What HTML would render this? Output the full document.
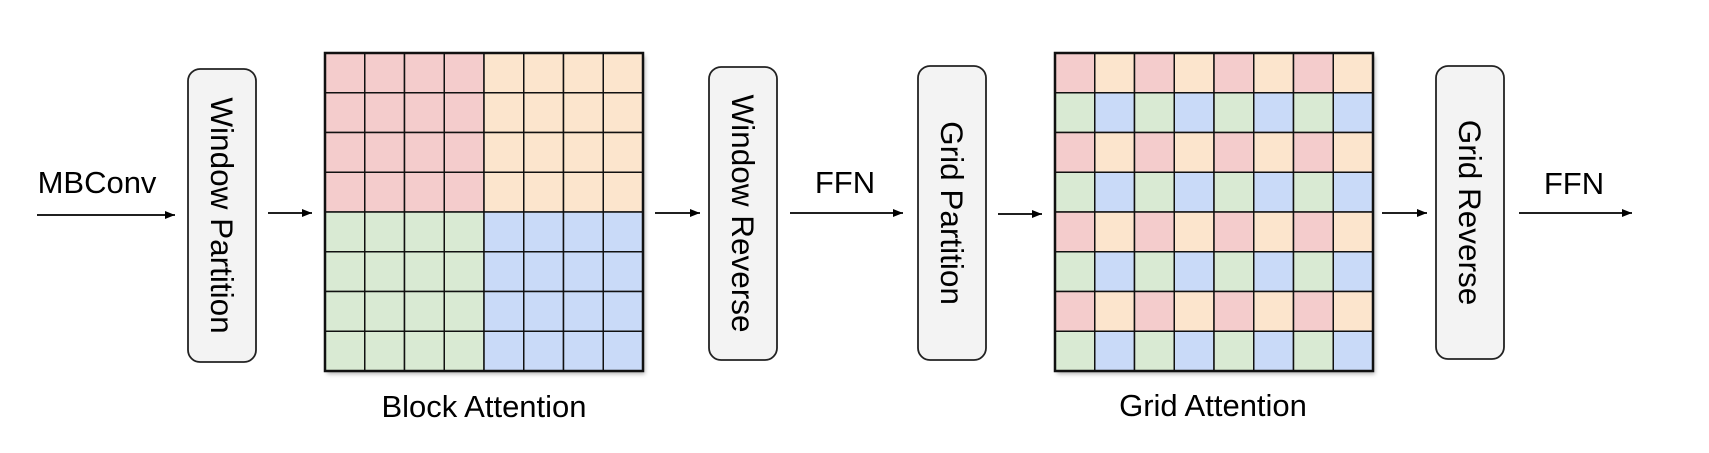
<!DOCTYPE html>
<html><head><meta charset="utf-8">
<style>
html,body{margin:0;padding:0;background:#fff;}
svg{display:block;}
text{font-family:"Liberation Sans",Arial,sans-serif;fill:#000;}
</style></head>
<body>
<svg id="fig" width="1709" height="453" viewBox="0 0 1709 453" xmlns="http://www.w3.org/2000/svg">
<defs>
<marker id="ah" markerWidth="10" markerHeight="8" refX="10" refY="4" orient="auto" markerUnits="userSpaceOnUse">
<path d="M0,0 L10,4 L0,8 Z" fill="#000"/>
</marker>
<filter id="sh" x="-5%" y="-5%" width="115%" height="115%">
<feDropShadow dx="2" dy="3" stdDeviation="2" flood-color="#000" flood-opacity="0.3"/>
</filter>
</defs>
</svg>
<script>
const colors = {r:"#f4cccc", o:"#fce5cd", g:"#d9ead3", b:"#c9daf8"};
const blockPattern = [
 "rrrroooo","rrrroooo","rrrroooo","rrrroooo",
 "ggggbbbb","ggggbbbb","ggggbbbb","ggggbbbb"];
const gridPattern = [
 "rorororo","gbgbgbgb","rorororo","gbgbgbgb",
 "rorororo","gbgbgbgb","rorororo","gbgbgbgb"];
const boxes = [
 {name:"window-partition-box", label:"Window Partition", x:188, y:69, w:68, h:293},
 {name:"window-reverse-box", label:"Window Reverse", x:709, y:67, w:68, h:293},
 {name:"grid-partition-box", label:"Grid Partition", x:918, y:66, w:68, h:294},
 {name:"grid-reverse-box", label:"Grid Reverse", x:1436, y:66, w:68, h:293}];
const arrows = [
 {name:"mbconv-arrow", x1:37, x2:175, y:215},
 {name:"arrow-to-block-attention", x1:268, x2:312, y:213},
 {name:"arrow-to-window-reverse", x1:655, x2:700, y:213},
 {name:"ffn-arrow-1", x1:790, x2:903, y:213},
 {name:"arrow-to-grid-attention", x1:998, x2:1042, y:214},
 {name:"arrow-to-grid-reverse", x1:1382, x2:1427, y:213},
 {name:"ffn-arrow-2", x1:1519, x2:1632, y:213}];
const labels = [
 {name:"mbconv-label", text:"MBConv", x:97, y:193},
 {name:"ffn-label-1", text:"FFN", x:845, y:193},
 {name:"ffn-label-2", text:"FFN", x:1574, y:194},
 {name:"block-attention-label", text:"Block Attention", x:484, y:417},
 {name:"grid-attention-label", text:"Grid Attention", x:1213, y:416}];

const NS="http://www.w3.org/2000/svg";
const svg=document.getElementById('fig');
function mk(tag,attrs){const e=document.createElementNS(NS,tag);for(const k in attrs)e.setAttribute(k,attrs[k]);return e;}

function drawGrid(pattern,x0,y0,size,name){
  const g=mk('g',{});
  
  
  const n=pattern.length, cs=size/n;
  g.appendChild(mk('rect',{x:x0,y:y0,width:size,height:size,fill:"#fff",filter:"url(#sh)"}));
  pattern.forEach((row,i)=>{[...row].forEach((c,j)=>{
    const r=mk('rect',{x:x0+j*cs,y:y0+i*cs,width:cs,height:cs,fill:colors[c],stroke:"#111","stroke-width":1.5});
    
    
    g.appendChild(r);
  });});
  g.appendChild(mk('rect',{x:x0,y:y0,width:size,height:size,fill:"none",stroke:"#111","stroke-width":2.5}));
  svg.appendChild(g);
}
drawGrid(blockPattern,325,53,318,'block-attention-grid');
drawGrid(gridPattern,1055,53,318,'grid-attention-grid');

boxes.forEach(b=>{
  const g=mk('g',{});
  
  
  g.appendChild(mk('rect',{x:b.x,y:b.y,width:b.w,height:b.h,rx:12,ry:12,fill:"#f3f3f3",stroke:"#222","stroke-width":1.8}));
  const cx=b.x+b.w/2, cy=b.y+b.h/2;
  const t=mk('text',{x:0,y:0,"font-size":31.5,"text-anchor":"middle","dominant-baseline":"central",transform:`translate(${cx},${cy}) rotate(90)`});
  t.textContent=b.label;
  g.appendChild(t);
  svg.appendChild(g);
});

arrows.forEach(a=>{
  const l=mk('line',{x1:a.x1,y1:a.y,x2:a.x2,y2:a.y,stroke:"#000","stroke-width":1.8,"marker-end":"url(#ah)"});
  
  
  svg.appendChild(l);
});

labels.forEach(lb=>{
  const t=mk('text',{x:lb.x,y:lb.y,"font-size":31,"text-anchor":"middle"});
  t.textContent=lb.text;
  
  
  svg.appendChild(t);
});
</script>
</body></html>
